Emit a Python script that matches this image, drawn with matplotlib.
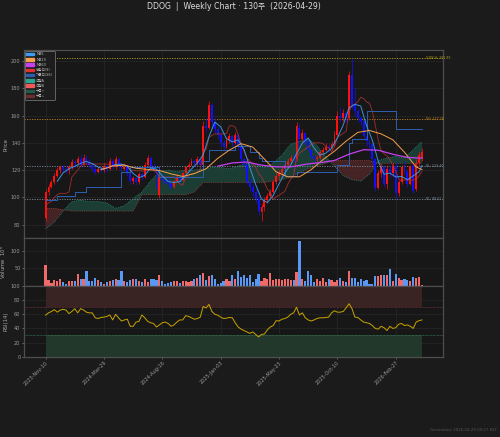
import matplotlib
matplotlib.use('Agg')
import matplotlib.pyplot as plt
from matplotlib.patches import Patch
import numpy as np

# Style
plt.rcParams.update({
    'figure.facecolor': '#1b1b1b',
    'axes.facecolor': '#171717',
    'axes.edgecolor': '#4e4e4e',
    'axes.labelcolor': '#aaaaaa',
    'xtick.color': '#9a9a9a',
    'ytick.color': '#9a9a9a',
    'text.color': '#dddddd',
    'grid.color': '#2b2b2b',
    'font.size': 3.6,
})
plt.rcParams['font.family'] = ['DejaVu Sans', 'Noto Sans CJK KR']

COLORS = {
    'up': '#ff1010',
    'down': '#1010ff',
    'vol_up': '#f06a6a',
    'vol_down': '#5a98f5',
    'ma5': '#3d9df3',
    'ma20': '#f5a04a',
    'ma60': '#c640f0',
    'tenkan': '#b83232',
    'kijun': '#2d5fb0',
    'span_a': '#2aa58f',
    'span_b': '#e05a50',
    'cloud_up': '#1f4a3e',
    'cloud_down': '#55282a',
    'rsi': '#c9a400',
}

# ---- data (weekly, 130 candles) ----
opens = [85, 104, 108, 111, 116, 120, 122, 121, 120, 122,
         126, 125, 128, 124, 129, 126, 124, 121, 119, 121,
         120, 123, 121, 127, 122, 128, 124, 121, 123, 118,
         112, 114, 111, 117, 115, 124, 129, 123, 120, 102,
         115, 113, 112, 110, 108, 112, 115, 113, 118, 122,
         124, 127, 125, 128, 124, 152, 151, 168, 155, 150,
         146, 140, 137, 142, 145, 140, 146, 138, 128, 124,
         112, 108, 104, 99, 89, 93, 98, 101, 104, 111,
         116, 118, 121, 124, 127, 129, 128, 151, 143, 147,
         141, 135, 130, 128, 129, 133, 135, 137, 136, 139,
         146, 160, 158, 162, 158, 190, 168, 163, 158, 156,
         145, 141, 139, 128, 107, 118, 122, 110, 121, 118,
         123, 103, 111, 122, 119, 110, 123, 106, 125, 128]
highs = [106, 110, 113, 118, 122, 124, 124, 123, 124, 128,
         128, 130, 131, 132, 131, 128, 126, 123, 123, 122,
         125, 124, 129, 128, 130, 129, 126, 125, 124, 119,
         116, 115, 119, 119, 126, 131, 130, 125, 121, 117,
         117, 115, 114, 112, 113, 117, 116, 119, 123, 126,
         129, 128, 130, 129, 156, 158, 171, 169, 158, 152,
         148, 142, 144, 147, 146, 148, 147, 139, 129, 125,
         114, 110, 106, 101, 95, 100, 103, 106, 113, 118,
         120, 123, 126, 129, 131, 132, 155, 154, 150, 148,
         142, 136, 131, 131, 135, 137, 140, 139, 141, 149,
         163, 166, 165, 163, 193, 201.85, 180, 165, 160, 157,
         151, 143, 140, 129, 120, 125, 124, 124, 124, 125,
         127, 113, 124, 127, 121, 124, 125, 128, 133, 136]
lows = [83, 102, 107, 110, 115, 118, 119, 118, 117, 121,
        122, 124, 122, 123, 124, 122, 119, 117, 118, 118,
        119, 119, 120, 121, 121, 122, 119, 120, 116, 110,
        110, 109, 110, 113, 114, 123, 121, 118, 106, 99.5,
        111, 110, 108, 106, 107, 111, 111, 112, 117, 120,
        123, 122, 124, 122, 123, 148, 150, 151, 147, 143,
        138, 134, 136, 140, 137, 139, 135, 126, 120, 110,
        105, 101, 96, 87, 83, 90, 96, 99, 103, 110,
        113, 116, 119, 122, 125, 126, 127, 137, 141, 139,
        133, 128, 126, 125, 128, 131, 134, 133, 135, 138,
        145, 155, 156, 155, 157, 165, 160, 155, 153, 143,
        138, 136, 124, 105, 106, 115, 108, 106, 115, 116,
        98.61, 101, 110, 117, 108, 109, 103, 105, 123, 127]
closes = [104, 108, 111, 116, 120, 122, 121, 120, 122, 126,
          125, 128, 124, 129, 126, 124, 121, 119, 121, 120,
          123, 121, 127, 122, 128, 124, 121, 123, 118, 112,
          114, 111, 117, 115, 124, 129, 123, 120, 108, 115,
          113, 112, 110, 108, 112, 115, 113, 118, 122, 124,
          127, 125, 128, 124, 152, 151, 168, 155, 150, 146,
          140, 137, 142, 145, 140, 146, 138, 128, 124, 112,
          108, 104, 99, 90, 93, 98, 101, 104, 111, 116,
          118, 121, 124, 127, 129, 128, 152, 143, 147, 141,
          135, 130, 128, 129, 133, 135, 137, 136, 139, 146,
          160, 158, 162, 158, 190, 168, 163, 158, 156, 145,
          141, 139, 128, 107, 118, 122, 110, 121, 118, 123,
          103, 111, 122, 119, 110, 123, 105, 125, 131, 133]
volume = [59, 17, 9, 17, 15, 19, 10, 5, 14, 14,
          14, 34, 19, 20, 43, 14, 14, 22, 17, 10,
          6, 11, 14, 16, 19, 16, 43, 14, 10, 17,
          19, 20, 15, 12, 20, 12, 20, 19, 17, 31,
          13, 7, 8, 11, 13, 13, 9, 13, 14, 11,
          14, 19, 23, 30, 37, 17, 28, 31, 20, 6,
          8, 13, 20, 13, 32, 20, 43, 25, 30, 22,
          30, 12, 20, 35, 14, 22, 20, 38, 16, 20,
          20, 18, 20, 20, 17, 17, 40, 127, 19, 13,
          42, 32, 12, 20, 14, 22, 12, 20, 17, 11,
          16, 22, 15, 10, 42, 24, 24, 11, 19, 14,
          18, 7, 6, 28, 27, 30, 30, 30, 49, 13,
          35, 22, 16, 20, 17, 14, 25, 24, 25, 4]
rsi = [58.7, 62, 64, 66.5, 63, 66, 67, 66, 61, 64,
       68, 62, 68, 66, 63, 62, 62, 55, 54, 55.5,
       56, 57, 59, 52, 60, 55, 50.5, 52, 53, 43,
       43, 49, 50, 59, 55, 50, 48, 47, 42, 45,
       48, 49, 47, 43, 45, 49, 52, 52, 58, 57,
       55, 53, 54, 56, 71, 69, 74, 64, 60, 58.7,
       56, 54, 54.5, 55.5, 55, 48, 42, 39, 37, 35,
       33, 35, 31.5, 28, 31.5, 32, 38, 42, 44, 51,
       50.5, 53, 54, 56, 60, 62, 70, 59, 62, 55,
       52, 50.5, 52, 54, 55, 55, 55.5, 56, 62, 65,
       63, 63, 64, 69, 75, 68, 56, 55.5, 52, 49,
       48, 47, 44, 40, 39, 43, 41, 37, 43, 40,
       41, 46, 47, 44, 45, 43, 40, 49, 51, 52]

ma5_x = list(range(4, 129, 2)) + [129]
ma5 = [111.8, 118, 121, 122.8, 125, 126.4, 124.8, 122.2, 120.8, 122.4,
       124.2, 124.4, 122.8, 117.6, 114.4, 116.2, 121.6, 120.8, 115.8, 111.6,
       111, 111.6, 116, 120.8, 125.2, 131.2, 144.6, 155.2, 151.8, 143,
       140.8, 142.2, 135.2, 122, 109.4, 98.8, 96.2, 101.4, 110, 118,
       123.8, 132, 139.8, 143.6, 136.2, 131, 132.4, 136, 143.6, 153,
       165.6, 168.2, 167, 152.6, 141.8, 126.6, 117, 117.8, 115, 115.4,
       113, 115.8, 118.8, 123.4]
ma20_x = list(range(19, 128, 4)) + [129]
ma20 = [120.35, 123.05, 123.7, 121.4, 120.5, 119.75, 117.25, 115.35, 117.5, 121,
        128.65, 134.7, 139.4, 136.9, 128.15, 118.8, 115.1, 115.1, 120.35, 127.6,
        133.9, 141.3, 147.65, 149.05, 146.55, 142.25, 133.1, 122.3, 120.45]
ma60_x = list(range(59, 130, 5))
ma60 = [122.9, 125.3, 125.95, 123.65, 122.4, 122.37, 124.25, 125.5, 127.1, 131.7,
        134.97, 134.6, 131.65, 129.3, 128.8]

tenkan = [94, 96, 97, 100, 102, 103, 103, 103, 104, 115,
          117.5, 120, 123, 124.5, 124.5, 124.5, 124.5, 124.5, 124.5, 124.5,
          124.5, 124.5, 124, 123, 123.5, 123.5, 124, 124, 123, 120,
          120, 119.5, 119.5, 119.5, 119, 120, 120, 120, 118.5, 115,
          115, 115, 115, 115, 115, 112, 110, 109, 114.5, 116,
          117.5, 117.5, 118.5, 120.5, 133.5, 135, 144, 145.5, 146.5, 146.5,
          146.5, 146.5, 147, 152.5, 152.5, 151.5, 146, 139, 134, 129,
          126.5, 124.5, 122, 117.5, 115, 111, 106, 104, 98.5, 100.5,
          101.5, 103, 104.5, 109.5, 113.5, 115.5, 129, 132.5, 134, 135.5,
          137, 138.5, 140, 140, 140, 139.5, 137.5, 136.5, 133.5, 137,
          144, 145.5, 147, 148.5, 163, 167.4, 168.4, 170, 173.4, 172.4,
          170, 169, 163, 153, 142, 134.5, 132, 130.5, 127.5, 123.5,
          119.3, 113.8, 111.8, 112.8, 112.8, 112.8, 112.8, 113.3, 115.8, 119]
kijun_x = [0, 4, 10, 14, 26, 29, 39, 54, 56, 65, 70, 73, 74, 82, 86, 100, 104, 105, 110, 120, 129]
kijun = [98, 101, 104, 108, 119, 122, 115, 127, 135, 138, 133, 129, 127, 116, 119, 124, 140, 143, 163, 150, 150]

span_x = list(range(0, 130, 3))
span_a = [77, 82, 90, 97, 98, 97, 97, 96, 92, 94,
          99, 104, 112, 119, 120, 119, 120, 120, 121, 122,
          122, 121, 123, 125, 124, 122, 125, 131, 139, 141,
          143, 138, 130, 123, 116, 113, 112, 117, 127, 129,
          130, 129, 135, 141]
span_b = [92, 92, 91, 90, 90, 90, 90, 90, 90, 90,
          90, 102, 102, 102, 102, 102, 102, 104, 111, 111,
          111, 111, 111, 111, 111, 111, 112, 113, 115, 118,
          121, 123, 125, 127, 127, 127, 127, 127, 125, 125,
          125, 125, 125, 125]

level_names = ['52W H: 201.85', 'PH: 157.38', 'PL: 123.40', 'PL: 98.61']
level_values = [201.85, 157.38, 123.40, 98.61]
level_colors = ['#b5a01c', '#c0821c', '#7d8a96', '#7d8a96']

tick_pos = [0, 20, 40, 60, 80, 100, 120]
tick_labels = ['2023-Nov-10', '2024-Mar-29', '2024-Aug-16', '2025-Jan-03',
               '2025-May-23', '2025-Oct-10', '2026-Feb-27']


def style_axis(ax):
    ax.tick_params(length=1.5, width=0.4, pad=1, labelsize=3.6)
    for s in ax.spines.values():
        s.set_linewidth(0.9)
    ax.grid(True, linewidth=0.4)
    ax.set_axisbelow(True)


def main():
    o = np.array(opens)
    h = np.array(highs)
    lo = np.array(lows)
    c = np.array(closes)
    x = np.arange(len(c))
    up = c >= o

    fig = plt.figure(figsize=(5, 4.37), dpi=100)
    ax1 = fig.add_axes([0.048, 0.4545, 0.838, 0.431])
    ax2 = fig.add_axes([0.048, 0.3455, 0.838, 0.109], sharex=ax1)
    ax3 = fig.add_axes([0.048, 0.1838, 0.838, 0.1617], sharex=ax1)

    # price panel: cloud
    sx = np.array(span_x)
    sa = np.array(span_a)
    sb = np.array(span_b)
    ax1.fill_between(sx, sa, sb, where=sa >= sb, interpolate=True,
                     color=COLORS['cloud_up'], alpha=0.75, lw=0, zorder=1)
    ax1.fill_between(sx, sa, sb, where=sa < sb, interpolate=True,
                     color=COLORS['cloud_down'], alpha=0.75, lw=0, zorder=1)
    ax1.plot(sx, sa, color=COLORS['span_a'], lw=0.5, ls=':', zorder=2)
    ax1.plot(sx, sb, color=COLORS['span_b'], lw=0.5, ls=':', alpha=0.8, zorder=2)

    # levels
    for name, val, col in zip(level_names, level_values, level_colors):
        ax1.axhline(val, color=col, lw=0.6, ls=(0, (1.5, 1.5)), zorder=1.5)
        ax1.text(130.3, val, name, color=col, fontsize=2.3, va='center', ha='left', zorder=6)

    # candles
    cc = np.where(up, COLORS['up'], COLORS['down'])
    ax1.vlines(x, lo, h, colors=cc, lw=0.5, zorder=3)
    ax1.bar(x, np.maximum(np.abs(c - o), 0.3), bottom=np.minimum(o, c), width=0.65,
            color=cc, lw=0, zorder=3)

    # indicator lines
    ax1.plot(x, tenkan, color=COLORS['tenkan'], lw=0.6, alpha=0.85, zorder=4)
    ax1.plot(kijun_x, kijun, color=COLORS['kijun'], lw=0.7, drawstyle='steps-post', zorder=4)
    ax1.plot(ma5_x, ma5, color=COLORS['ma5'], lw=0.7, alpha=0.9, zorder=4)
    ax1.plot(ma20_x, ma20, color=COLORS['ma20'], lw=0.7, zorder=4)
    ax1.plot(ma60_x, ma60, color=COLORS['ma60'], lw=0.9, zorder=4)

    ax1.set_xlim(-7.4, 136.2)
    ax1.set_ylim(70, 208)
    ax1.set_yticks([80, 100, 120, 140, 160, 180, 200])
    ax1.set_ylabel('Price', fontsize=3.8, labelpad=2)
    style_axis(ax1)
    plt.setp(ax1.get_xticklabels(), visible=False)

    handles = [
        Patch(color=COLORS['ma5'], label='MA5'),
        Patch(color=COLORS['ma20'], label='MA20'),
        Patch(color=COLORS['ma60'], label='MA60'),
        Patch(color='#e03030', label='전환선(9)'),
        Patch(color=COLORS['kijun'], label='기준선(26)'),
        Patch(color=COLORS['span_a'], label='선행A'),
        Patch(color='#f05a5a', label='선행B'),
        Patch(color='#1f5a4a', label='구름↑'),
        Patch(color='#6a2e2e', label='구름↓'),
    ]
    leg = ax1.legend(handles=handles, loc='upper left', fontsize=2.5, frameon=True,
                     facecolor='#1d1d1d', edgecolor='#707070', framealpha=1,
                     handlelength=2.2, handleheight=0.7, labelspacing=0.35,
                     borderpad=0.4, borderaxespad=0.3, handletextpad=0.6)
    leg.get_frame().set_linewidth(0.6)
    for t in leg.get_texts():
        t.set_color('#bbbbbb')

    # volume panel
    vc = np.where(up, COLORS['vol_up'], COLORS['vol_down'])
    ax2.bar(x, volume, width=0.75, color=vc, lw=0, zorder=3)
    ax2.set_ylim(0, 135)
    ax2.set_yticks([50, 100])
    ax2.set_ylabel('Volume  $10^6$', fontsize=3.8, labelpad=2)
    style_axis(ax2)
    plt.setp(ax2.get_xticklabels(), visible=False)

    # rsi panel
    ax3.fill_between(x, 70, 100, color='#3a2323', lw=0, zorder=1)
    ax3.fill_between(x, 0, 30, color='#21382a', lw=0, zorder=1)
    ax3.axhline(70, color='#8c3a3a', lw=0.5, ls=(0, (1, 1)), zorder=2)
    ax3.axhline(30, color='#3f8a62', lw=0.5, ls=(0, (1, 1)), zorder=2)
    ax3.plot(x, rsi, color=COLORS['rsi'], lw=0.7, zorder=4)
    ax3.set_ylim(0, 100)
    ax3.set_yticks([0, 20, 40, 60, 80, 100])
    ax3.set_ylabel('RSI(14)', fontsize=3.8, labelpad=2)
    style_axis(ax3)
    ax3.set_xticks(tick_pos)
    ax3.set_xticklabels(tick_labels, rotation=45, ha='right', rotation_mode='anchor', fontsize=3.6)

    fig.text(0.467, 0.984, 'DDOG  |  Weekly Chart · 130주  (2026-04-29)',
             ha='center', va='center', fontsize=5.6, color='#dddddd')
    fig.text(0.994, 0.012, 'Generated: 2026-04-29 09:27 KST', ha='right', va='bottom',
             fontsize=2.8, color='#555555')

    fig.savefig('out.png', dpi=100, facecolor=fig.get_facecolor())


if __name__ == '__main__':
    main()
